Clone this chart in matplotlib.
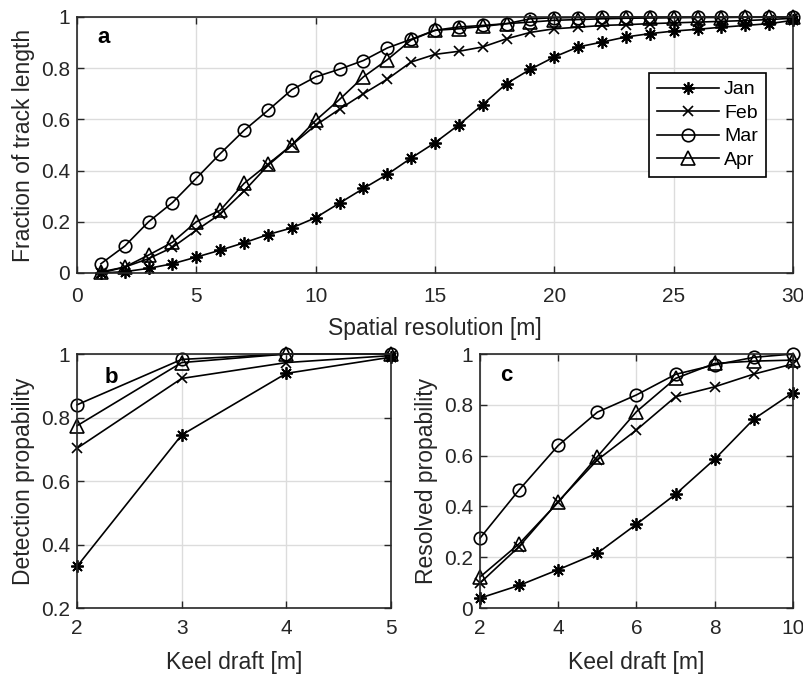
import matplotlib
matplotlib.use('Agg')
import matplotlib.pyplot as plt

plt.rcParams['font.family'] = ['Liberation Sans', 'DejaVu Sans']

# --- datos ---
months = ['Jan', 'Feb', 'Mar', 'Apr']

res_x = list(range(1, 31))
frac_jan = [0.0, 0.005, 0.018, 0.036, 0.062, 0.089, 0.118, 0.15, 0.176, 0.216,
            0.273, 0.33, 0.385, 0.449, 0.509, 0.579, 0.658, 0.74, 0.796, 0.844,
            0.883, 0.902, 0.922, 0.935, 0.945, 0.952, 0.96, 0.967, 0.974, 0.987]
frac_feb = [0.0, 0.023, 0.056, 0.10, 0.167, 0.23, 0.32, 0.42, 0.50, 0.577,
            0.64, 0.70, 0.757, 0.824, 0.854, 0.866, 0.883, 0.915, 0.94, 0.954,
            0.96, 0.967, 0.97, 0.974, 0.977, 0.98, 0.983, 0.986, 0.99, 0.995]
frac_mar = [0.036, 0.105, 0.20, 0.275, 0.37, 0.466, 0.557, 0.635, 0.716, 0.766,
            0.796, 0.83, 0.879, 0.913, 0.948, 0.961, 0.967, 0.974, 0.993, 0.997,
            0.998, 1.0, 1.0, 1.0, 1.0, 1.0, 1.0, 1.0, 1.0, 1.0]
frac_apr = [0.004, 0.023, 0.07, 0.12, 0.20, 0.245, 0.35, 0.425, 0.50, 0.596,
            0.678, 0.766, 0.833, 0.91, 0.948, 0.954, 0.963, 0.974, 0.98, 0.987,
            0.99, 0.993, 0.995, 0.996, 0.997, 0.998, 0.998, 0.999, 0.999, 1.0]

det_x = [2, 3, 4, 5]
det_jan = [0.331, 0.745, 0.939, 0.99]
det_feb = [0.703, 0.923, 0.973, 0.995]
det_mar = [0.84, 0.983, 1.0, 1.0]
det_apr = [0.774, 0.973, 1.0, 1.0]

resv_x = [2, 3, 4, 5, 6, 7, 8, 9, 10]
resv_jan = [0.039, 0.089, 0.151, 0.216, 0.33, 0.448, 0.586, 0.744, 0.848]
resv_feb = [0.098, 0.242, 0.419, 0.583, 0.701, 0.832, 0.871, 0.921, 0.961]
resv_mar = [0.275, 0.465, 0.64, 0.771, 0.839, 0.92, 0.957, 0.987, 1.0]
resv_apr = [0.122, 0.253, 0.417, 0.596, 0.773, 0.904, 0.963, 0.972, 0.976]

# --- estilos ---
ast = (8, 2, 0)
styles = {
    'Jan': dict(marker=ast, markersize=9, markeredgewidth=1.3),
    'Feb': dict(marker='x', markersize=6.5, markeredgewidth=1.2),
    'Mar': dict(marker='o', markersize=9, markerfacecolor='none', markeredgewidth=1.2),
    'Apr': dict(marker='^', markersize=9.5, markerfacecolor='none', markeredgewidth=1.2),
}
axcol = '#262626'
TICK_FS = 15
LABEL_FS = 16.5


def style_axes(ax, xpad=8):
    ax.grid(True, color='#dcdcdc', linewidth=1)
    ax.set_axisbelow(True)
    ax.tick_params(direction='in', top=True, right=True, length=5,
                   labelsize=TICK_FS, colors=axcol, width=1)
    ax.tick_params(axis='x', pad=xpad)
    ax.tick_params(axis='y', pad=5)
    for s in ax.spines.values():
        s.set_color(axcol)
        s.set_linewidth(1.2)


def fmt(v):
    return f'{v:g}'


fig = plt.figure(figsize=(8.04, 6.77), dpi=100)

# --- panel a ---
ax1 = fig.add_axes([0.0958, 0.5968, 0.8905, 0.3781])
for m, y in zip(months, [frac_jan, frac_feb, frac_mar, frac_apr]):
    ax1.plot(res_x, y, color='k', linewidth=1.2, label=m, clip_on=False, **styles[m])
ax1.set_xlim(0, 30)
ax1.set_ylim(0, 1)
ax1.set_xticks(range(0, 31, 5))
ax1.set_yticks([0, 0.2, 0.4, 0.6, 0.8, 1])
ax1.set_yticklabels([fmt(v) for v in ax1.get_yticks()])
style_axes(ax1, xpad=10)
ax1.set_xlabel('Spatial resolution [m]', fontsize=LABEL_FS, color=axcol, labelpad=8)
ax1.set_ylabel('Fraction of track length', fontsize=LABEL_FS, color=axcol, labelpad=4)
ax1.text(0.028, 0.96, 'a', transform=ax1.transAxes, fontsize=16,
         fontweight='bold', va='top', ha='left')
leg = ax1.legend(loc='upper left', bbox_to_anchor=(0.799, 0.781), borderaxespad=0,
                 fontsize=14, numpoints=1, handlelength=3.2, borderpad=0.4,
                 labelspacing=0.3, handletextpad=0.25, fancybox=False,
                 framealpha=1, edgecolor='k')
leg.get_frame().set_linewidth(1.2)

# --- panel b ---
ax2 = fig.add_axes([0.0958, 0.1019, 0.3905, 0.3752])
for m, y in zip(months, [det_jan, det_feb, det_mar, det_apr]):
    ax2.plot(det_x, y, color='k', linewidth=1.2, clip_on=False, **styles[m])
ax2.set_xlim(2, 5)
ax2.set_ylim(0.2, 1)
ax2.set_xticks(det_x)
ax2.set_yticks([0.2, 0.4, 0.6, 0.8, 1])
ax2.set_yticklabels([fmt(v) for v in ax2.get_yticks()])
style_axes(ax2)
ax2.set_xlabel('Keel draft [m]', fontsize=LABEL_FS, color=axcol, labelpad=9)
ax2.set_ylabel('Detection propability', fontsize=LABEL_FS, color=axcol, labelpad=4)
ax2.text(0.089, 0.95, 'b', transform=ax2.transAxes, fontsize=16,
         fontweight='bold', va='top', ha='left')

# --- panel c ---
ax3 = fig.add_axes([0.597, 0.1019, 0.3893, 0.3752])
for m, y in zip(months, [resv_jan, resv_feb, resv_mar, resv_apr]):
    ax3.plot(resv_x, y, color='k', linewidth=1.2, clip_on=False, **styles[m])
ax3.set_xlim(2, 10)
ax3.set_ylim(0, 1)
ax3.set_xticks([2, 4, 6, 8, 10])
ax3.set_yticks([0, 0.2, 0.4, 0.6, 0.8, 1])
ax3.set_yticklabels([fmt(v) for v in ax3.get_yticks()])
style_axes(ax3)
ax3.set_xlabel('Keel draft [m]', fontsize=LABEL_FS, color=axcol, labelpad=9)
ax3.set_ylabel('Resolved propability', fontsize=LABEL_FS, color=axcol, labelpad=4)
ax3.text(0.064, 0.955, 'c', transform=ax3.transAxes, fontsize=16,
         fontweight='bold', va='top', ha='left')

fig.savefig('out.png', dpi=100)
